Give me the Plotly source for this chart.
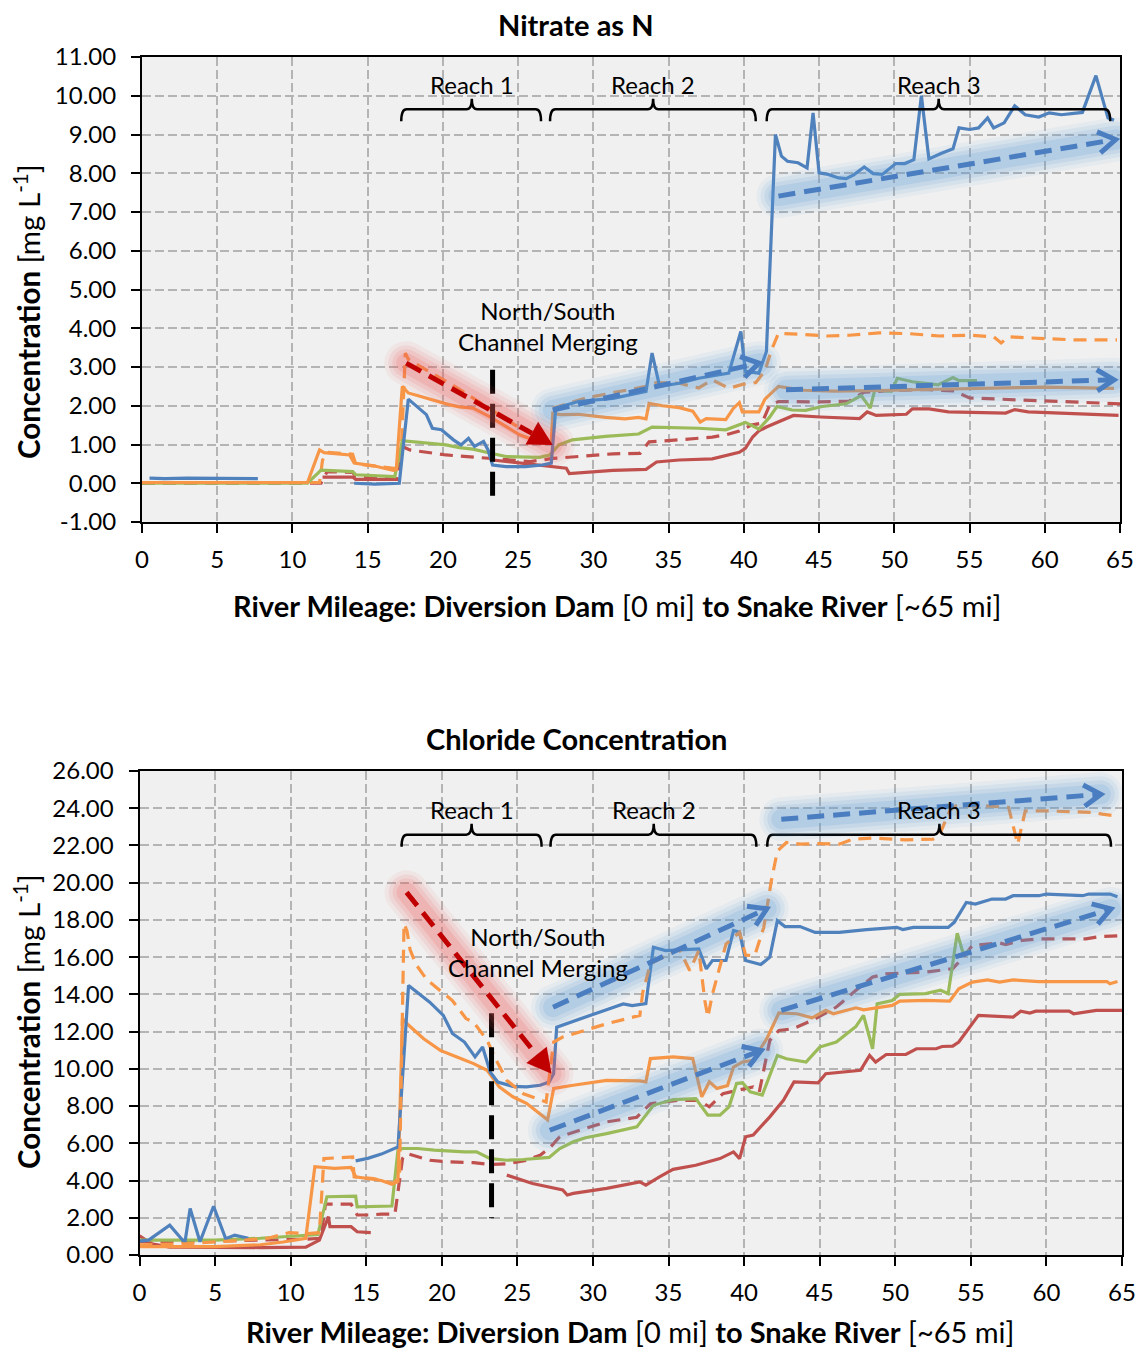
import math
import plotly.graph_objects as go

W, H = 1141, 1350
FONT = "Lato"

# ---------------- Nitrate as N (top chart) ----------------
no3_blue_x = [0.5, 1.5, 3, 5, 7.7, None, 14.1, 15.5, 17.1, 17.7, 18.9, 19.3, 19.9, 20.7, 21.2, 21.7, 22.1, 22.7, 23.0, 23.3,
              24.2, 25.5, 26.6, 27.2, 27.5, 29.0, 31.3, 33.5, 33.9, 34.4, 35.7, 37.0, 39.0, 39.8, 40.1, 41.0, 41.5,
              42.1, 42.5, 42.9, 43.6, 44.2, 44.6, 45.0, 45.6, 46.3, 46.8, 47.3, 48.0, 48.6, 49.2, 50.1, 50.7, 51.3,
              51.8, 52.3, 53.1, 53.9, 54.3, 55.0, 55.6, 56.2, 56.6, 57.3, 58.0, 58.7, 59.6, 60.3, 61.1, 62.5, 63.4,
              64.2, 64.6]
no3_blue_y = [0.13, 0.12, 0.13, 0.12, 0.12, None, 0.0, -0.02, 0.0, 2.17, 1.77, 1.42, 1.38, 1.12, 0.99, 1.16, 0.95, 1.08, 0.86, 0.47,
              0.43, 0.43, 0.47, 0.52, 1.94, 2.11, 2.19, 2.37, 3.36, 2.50, 2.58, 2.71, 2.84, 3.92, 2.89, 2.84, 3.40,
              9.00, 8.44, 8.31, 8.27, 8.14, 9.56, 8.01, 7.97, 7.88, 7.86, 7.96, 8.16, 7.99, 7.97, 8.25, 8.25, 8.35,
              10.00, 8.37, 8.51, 8.63, 9.17, 9.13, 9.17, 9.43, 9.17, 9.30, 9.74, 9.51, 9.45, 9.56, 9.51, 9.57, 10.52,
              9.43, 9.37]

no3_orange_x = [0, 5, 11.0, 11.8, 12.1, 13.8, 14.1, 15.4, 16.1, 16.7, 16.9, 17.3, 17.7, 18.5, 19.3, 20.4, 21.1, 22.0,
                23.1, 24.2, 25.1, 26.0, 26.7, 27.2, 27.3, 27.8, 29.0, 30.8, 32.1, 33.0, 33.5, 33.7, 34.6, 35.7, 36.6,
                37.1, 37.5, 38.8, 39.3, 39.7, 39.9, 41.0, 41.4, 42.3, 44, 46, 48, 50, 52, 54, 56, 58, 60, 62, 64.6]
no3_orange_y = [0.02, 0.02, 0.02, 0.86, 0.79, 0.73, 0.52, 0.45, 0.39, 0.33, 0.35, 2.50, 2.33, 2.24, 2.16, 2.03, 1.97, 1.94,
                1.72, 1.46, 1.25, 1.12, 1.08, 1.03, 1.81, 1.77, 1.78, 1.70, 1.66, 1.70, 1.66, 2.06, 2.00, 1.95, 1.86,
                1.58, 1.67, 1.64, 1.93, 2.08, 1.84, 1.84, 2.17, 2.50, 2.40, 2.38, 2.38, 2.40, 2.42, 2.44, 2.45, 2.47,
                2.48, 2.47, 2.45]

no3_green_x = [0, 5, 11.0, 11.9, 14.0, 14.2, 16.8, 17.3, 18.9, 20.2, 21.1, 22.0, 23.1, 24.2, 26.4, 27.1, 27.7, 28.6,
               30.8, 33.0, 33.9, 37.0, 38.8, 40.1, 41.0, 41.7, 42.2, 43.2, 44.1, 45.2, 46.8, 47.8, 48.4, 48.7, 49.8,
               50.2, 51.2, 52.9, 53.9, 54.3, 55.5]
no3_green_y = [0.0, 0.0, 0.0, 0.34, 0.30, 0.22, 0.17, 1.10, 1.05, 0.99, 0.92, 0.88, 0.78, 0.69, 0.67, 0.73, 0.99, 1.12,
               1.21, 1.27, 1.45, 1.42, 1.38, 1.57, 1.40, 1.70, 1.98, 1.89, 1.88, 1.98, 2.05, 2.26, 1.94, 2.41, 2.37,
               2.71, 2.62, 2.54, 2.73, 2.65, 2.65]

no3_red_x = [12.0, 14.0, 14.2, 17.1, None, 23.3, 25.0, 27.3, 28.2, 28.4, 30.0, 31.3, 33.5, 34.2, 35.7, 37.9, 39.7,
             40.1, 40.6, 41.0, 41.5, 42.3, 43.3, 45.1, 47.7, 48.2, 48.8, 50.8, 51.2, 52.3, 53.6, 57.4, 58.0, 58.9,
             62.0, 64.9]
no3_red_y = [0.16, 0.16, 0.10, 0.10, None, 0.60, 0.52, 0.43, 0.39, 0.25, 0.30, 0.33, 0.36, 0.55, 0.60, 0.63, 0.80,
             0.90, 1.20, 1.35, 1.45, 1.58, 1.75, 1.71, 1.67, 1.84, 1.75, 1.78, 1.92, 1.92, 1.84, 1.81, 1.90, 1.84,
             1.80, 1.75]

no3_orange_dash_x = [0, 5, 11.8, 12.0, 12.3, 14.0, 14.2, 16.9, 17.2, 17.5, 17.7, 19.0, 21.0, 23.0, 25.0, 26.5, 27.2,
                     27.4, 28.2, 29.5, 31.5, 33.5, 34.2, 35.7, 37.0, 37.9, 39.0, 39.9, 40.8, 41.4, 41.8, 42.3, 44.0,
                     45.5, 47.0, 49.0, 51.0, 53.0, 55.0, 56.6, 57.1, 57.6, 59.0, 62.0, 64.8]
no3_orange_dash_y = [0.02, 0.02, 0.02, 0.60, 0.80, 0.75, 0.50, 0.38, 0.50, 3.36, 3.20, 2.90, 2.45, 1.95, 1.45, 1.15,
                     1.05, 1.95, 2.05, 2.20, 2.35, 2.50, 2.60, 2.58, 2.46, 2.67, 2.45, 2.55, 2.60, 2.90, 3.40, 3.87,
                     3.84, 3.80, 3.82, 3.88, 3.86, 3.80, 3.82, 3.78, 3.62, 3.78, 3.75, 3.70, 3.70]

no3_red_dash_x = [0, 5, 11.9, 12.3, 14.0, 14.2, 16.0, 17.0, 17.3, 17.8, 20.2, 23.1, 25.8, 27.3, 31.3, 33.1, 33.7, 35.7,
                  37.9, 38.8, 39.7, 40.5, 41.2, 41.7, 42.3, 45.0, 47.0, 48.0, 50.0, 52.0, 54.0, 55.0, 58.0, 61.0, 65.0]
no3_red_dash_y = [0.0, 0.0, 0.0, 0.30, 0.28, 0.18, 0.15, 0.12, 0.95, 0.86, 0.73, 0.64, 0.56, 0.64, 0.76, 0.77, 1.07,
                  1.12, 1.19, 1.25, 1.35, 1.50, 1.55, 2.00, 2.11, 2.10, 2.12, 2.35, 2.40, 2.42, 2.38, 2.20, 2.15, 2.12,
                  2.05]

# ---------------- Chloride (bottom chart) ----------------
cl_blue_x = [0.0, 0.6, 2.0, 3.0, 3.35, 4.0, 4.9, 5.7, 6.3, 7.2, None, 14.3, 15.1, 16.0, 16.9, 17.1, 17.8, 19.2, 20.1,
             20.7, 21.5, 22.2, 22.7, 23.2, 23.7, 24.7, 25.6, 26.5, 27.1, 27.4, 27.6, 28.2, 29.8, 32.0, 32.6, 33.5, 34.0,
             34.8, 37.0, 37.5, 37.9, 38.8, 39.3, 39.7, 40.1, 41.1, 41.7, 42.2, 42.7, 43.7, 44.7, 46.3, 48.1, 50.1,
             50.5, 51.2, 53.5, 53.9, 54.7, 55.3, 56.4, 57.3, 57.8, 59.5, 60.0, 62.4, 62.8, 64.2, 64.7]
cl_blue_y = [0.75, 0.80, 1.60, 0.66, 2.50, 0.71, 2.62, 0.88, 1.07, 0.90, None, 5.06, 5.19, 5.42, 5.72, 5.80, 14.48,
             13.58, 12.87, 11.90, 11.44, 10.64, 11.17, 9.83, 9.29, 9.06, 9.03, 9.12, 9.29, 9.74, 12.24, 12.42, 12.87,
             13.49, 13.40, 13.50, 16.53, 16.35, 16.44, 15.37, 15.82, 15.82, 17.43, 17.34, 15.82, 15.60, 16.00, 17.96,
             17.64, 17.64, 17.33, 17.33, 17.48, 17.60, 17.48, 17.60, 17.60, 17.87, 18.94, 18.85, 19.12, 19.12, 19.30,
             19.30, 19.39, 19.30, 19.39, 19.39, 19.25]

cl_orange_x = [0, 5, 8, 9.5, 11.0, 11.6, 12.9, 14.0, 14.3, 15.1, 16.0, 16.7, 17.1, 17.4, 17.7, 18.8, 19.9, 21.0, 22.1,
               23.0, 23.8, 24.7, 25.6, 27.0, 27.4, 28.7, 30.9, 33.1, 33.5, 33.8, 35.3, 36.6, 37.2, 37.7, 38.2, 38.9,
               39.3, 39.9, 40.6, 41.5, 42.3, 43.5, 44.5, 45.4, 45.9, 47.4, 47.9, 49.8, 50.3, 52.0, 53.6, 54.2, 55.1,
               56.1, 56.9, 57.8, 59.5, 64.0, 64.2, 64.7]
cl_orange_y = [0.45, 0.45, 0.55, 0.70, 0.90, 4.74, 4.65, 4.70, 4.20, 4.10, 4.00, 3.80, 3.95, 12.70, 12.42, 11.62,
               10.99, 10.64, 10.28, 9.92, 9.03, 8.50, 8.15, 7.26, 8.95, 9.12, 9.38, 9.35, 9.30, 10.55, 10.64, 10.55,
               8.50, 9.30, 8.95, 9.10, 10.10, 10.37, 10.46, 11.62, 13.00, 12.96, 12.74, 13.14, 12.96, 13.28, 13.17,
               13.41, 13.64, 13.68, 13.64, 14.30, 14.66, 14.78, 14.66, 14.78, 14.69, 14.69, 14.57, 14.69]

cl_green_x = [0, 5, 8, 11.8, 12.4, 14.3, 14.4, 16.7, 17.1, 17.4, 18.4, 19.5, 21.5, 22.3, 23.2, 24.3, 25.4, 27.1, 27.8,
              28.7, 29.5, 30.9, 32.9, 34.0, 35.3, 36.8, 37.6, 38.4, 39.0, 39.5, 39.9, 40.4, 41.2, 42.2, 42.8, 44.1,
              45.0, 46.1, 47.4, 47.9, 48.5, 48.8, 49.8, 50.3, 52.0, 53.0, 53.5, 54.1, 54.5, 54.9]
cl_green_y = [0.80, 0.80, 0.90, 1.10, 3.13, 3.16, 2.59, 2.63, 5.63, 5.72, 5.72, 5.63, 5.54, 5.54, 5.18, 5.09, 5.13, 5.24,
              5.72, 6.08, 6.30, 6.52, 6.88, 8.04, 8.35, 8.40, 7.51, 7.51, 7.96, 9.21, 9.25, 8.77, 8.59, 10.72, 10.54,
              10.36, 11.17, 11.44, 12.28, 12.87, 11.08, 13.49, 13.67, 14.00, 14.04, 14.22, 14.04, 17.29, 16.18, 16.36]

cl_red_x = [0.0, 0.8, 2.0, 5.0, 8.0, 11.0, 11.9, 12.5, 12.6, 14.0, 14.4, 15.3, None, 24.3, 26.0, 28.0, 28.3, 28.7,
            30.9, 33.1, 33.5, 34.4, 35.3, 36.8, 38.4, 39.3, 39.7, 40.1, 40.6, 41.7, 42.6, 43.3, 44.9, 45.4, 47.7,
            48.3, 48.7, 49.4, 50.7, 51.4, 52.7, 53.1, 53.8, 54.2, 55.5, 57.8, 58.3, 58.9, 59.3, 61.5, 61.8, 63.3, 65.0]
cl_red_y = [1.03, 0.60, 0.42, 0.40, 0.40, 0.42, 0.80, 2.06, 1.52, 1.52, 1.25, 1.20, None, 4.29, 3.84, 3.50, 3.22, 3.31,
            3.58, 3.93, 3.75, 4.20, 4.60, 4.82, 5.18, 5.54, 5.18, 6.35, 6.44, 7.42, 8.31, 9.30, 9.25, 9.74, 9.92,
            10.72, 10.36, 10.77, 10.77, 11.08, 11.08, 11.20, 11.22, 11.44, 12.87, 12.78, 13.10, 13.00, 13.10, 13.10,
            12.96, 13.14, 13.14]

cl_orange_dash_x = [0, 3, 6, 8.5, 9.9, 11.1, 11.9, 12.2, 14.1, 14.2, 15.5, 16.8, 17.2, 17.5, 17.7, 17.9, 18.3, 19.0,
                    19.9, 20.7, 21.6, 22.1, 23.0, 23.6, 24.3, 25.4, 26.9, 27.4, 28.0, 28.7, 30.9, 33.1, 33.3, 33.8,
                    35.7, 36.4, 37.0, 37.4, 37.6, 37.9, 38.8, 39.3, 39.7, 40.1, 40.7, 41.3, 41.8, 42.2, 42.8, 43.7,
                    45.0, 46.3, 47.2, 48.5, 50.1, 50.7, 52.5, 52.9, 53.6, 54.0, 56.0, 57.5, 58.1, 58.6, 59.9, 63.1,
                    63.7, 64.5]
cl_orange_dash_y = [0.54, 0.60, 0.75, 0.90, 1.20, 1.15, 1.20, 5.18, 5.27, 4.20, 4.10, 3.84, 4.20, 17.80, 17.40, 16.40,
                    15.60, 14.80, 14.20, 13.67, 12.70, 12.51, 11.53, 10.46, 9.38, 8.66, 8.22, 11.44, 11.71, 11.89,
                    12.42, 12.87, 14.12, 15.64, 16.44, 15.28, 16.35, 13.67, 12.78, 14.00, 16.70, 17.07, 17.34, 16.10,
                    16.09, 17.60, 20.10, 21.70, 22.16, 22.07, 22.10, 22.07, 22.34, 22.40, 22.34, 22.30, 22.34, 22.52,
                    23.86, 24.13, 24.13, 24.04, 22.07, 23.86, 23.86, 23.77, 23.68, 23.60]

cl_red_dash_x = [0, 5, 11.0, 12.0, 12.3, 14.0, 14.4, 15.3, 16.0, 16.9, 17.4, 17.7, 19.2, 20.5, 22.1, 23.2, 24.3, 25.6,
                 26.5, 27.1, 27.8, 28.7, 29.5, 30.9, 32.9, 33.8, 35.7, 37.0, 37.7, 38.6, 39.7, 40.6, 41.0, 41.7, 42.3,
                 43.2, 44.5, 46.1, 47.4, 48.5, 49.4, 50.7, 52.0, 53.8, 54.5, 55.1, 56.9, 57.3, 58.4, 59.5, 62.6, 63.5,
                 65.0]
cl_red_dash_y = [0.72, 0.75, 0.85, 0.90, 2.73, 2.73, 2.15, 2.15, 2.20, 2.20, 5.18, 5.45, 5.09, 5.00, 4.96, 4.86, 4.90,
                 5.09, 5.36, 5.72, 6.35, 6.61, 6.80, 7.15, 7.40, 8.13, 8.31, 8.31, 7.96, 8.67, 8.85, 9.03, 8.75, 11.53,
                 12.06, 12.15, 12.60, 13.32, 14.22, 14.93, 15.10, 15.14, 15.20, 15.38, 16.00, 16.63, 16.76, 16.68,
                 16.90, 16.98, 16.98, 17.10, 17.16]

# tick values
x_ticks = list(range(0, 66, 5))
no3_y_ticks = list(range(-1, 12))
cl_y_ticks = list(range(0, 27, 2))

# annotation positions (data units: miles, concentration)
reach_names = ["Reach 1", "Reach 2", "Reach 3"]
no3_brackets = [(17.23, 26.52, 21.92), (27.12, 40.79, 33.97), (41.52, 64.35, 52.95)]
cl_brackets = [(17.34, 26.60, 21.97), (27.19, 40.81, 34.02), (41.53, 64.27, 52.92)]
no3_arrows = [("red", (17.56, 3.10), (27.30, 0.99)),
              ("blue", (27.30, 1.89), (41.00, 3.10)),
              ("blue", (42.30, 7.41), (64.70, 8.87)),
              ("blue", (42.80, 2.41), (64.60, 2.67))]
cl_arrows = [("red", (17.67, 19.48), (27.26, 9.74)),
             ("blue", (27.36, 13.31), (41.50, 18.60)),
             ("blue", (27.14, 6.70), (41.13, 10.99)),
             ("blue", (42.46, 23.41), (63.60, 24.75)),
             ("blue", (42.46, 13.14), (64.27, 18.59))]

# ---------------- geometry (pixels) ----------------
G_TOP = dict(x0=142, x1=1120, ytop=57, ybot=522, xr=(0, 65), yr=(-1, 11), xref="x", yref="y")
G_BOT = dict(x0=139.5, x1=1122, ytop=771, ybot=1255, xr=(0, 65), yr=(0, 26), xref="x2", yref="y2")


def to_px(g, x, y):
    px = g["x0"] + (x - g["xr"][0]) / (g["xr"][1] - g["xr"][0]) * (g["x1"] - g["x0"])
    py = g["ybot"] - (y - g["yr"][0]) / (g["yr"][1] - g["yr"][0]) * (g["ybot"] - g["ytop"])
    return px, py


def to_data(g, px, py):
    x = g["xr"][0] + (px - g["x0"]) / (g["x1"] - g["x0"]) * (g["xr"][1] - g["xr"][0])
    y = g["yr"][0] + (g["ybot"] - py) / (g["ybot"] - g["ytop"]) * (g["yr"][1] - g["yr"][0])
    return x, y


def path_from_px(g, pts, close=True):
    s = ""
    for i, (px, py) in enumerate(pts):
        x, y = to_data(g, px, py)
        s += ("M" if i == 0 else "L") + f"{x:.4f},{y:.4f} "
    if close:
        s += "Z"
    return s


BLUE, ORANGE, GREEN, RED = "#4F81BD", "#F79646", "#9BBB59", "#C0504D"
LW = 3.2
DASH = "13px,8px"

fig = go.Figure()


def add_series(xs, ys, color, dash, xa, ya):
    fig.add_trace(go.Scatter(x=xs, y=ys, mode="lines", xaxis=xa, yaxis=ya, connectgaps=False,
                             line=dict(color=color, width=LW, dash=dash), showlegend=False, hoverinfo="skip"))


for (xs, ys, c, d) in [(no3_red_dash_x, no3_red_dash_y, RED, DASH),
                       (no3_orange_dash_x, no3_orange_dash_y, ORANGE, DASH),
                       (no3_red_x, no3_red_y, RED, "solid"),
                       (no3_green_x, no3_green_y, GREEN, "solid"),
                       (no3_orange_x, no3_orange_y, ORANGE, "solid"),
                       (no3_blue_x, no3_blue_y, BLUE, "solid")]:
    add_series(xs, ys, c, d, "x", "y")

for (xs, ys, c, d) in [(cl_red_dash_x, cl_red_dash_y, RED, DASH),
                       (cl_red_x, cl_red_y, RED, "solid"),
                       (cl_green_x, cl_green_y, GREEN, "solid"),
                       (cl_orange_x, cl_orange_y, ORANGE, "solid"),
                       (cl_blue_x, cl_blue_y, BLUE, "solid"),
                       (cl_orange_dash_x, cl_orange_dash_y, ORANGE, DASH)]:
    add_series(xs, ys, c, d, "x2", "y2")

shapes = []


def capsule(g, p0, p1, r, n=12):
    a = to_px(g, *p0)
    b = to_px(g, *p1)
    th = math.atan2(b[1] - a[1], b[0] - a[0])
    pts = []
    for i in range(n + 1):
        t = th + math.pi / 2 - math.pi * i / n
        pts.append((b[0] + r * math.cos(t), b[1] + r * math.sin(t)))
    for i in range(n + 1):
        t = th - math.pi / 2 - math.pi * i / n
        pts.append((a[0] + r * math.cos(t), a[1] + r * math.sin(t)))
    return path_from_px(g, pts)


def add_arrow(g, kind, p0, p1):
    if kind == "blue":
        col, glow_rgb = "#4A7EC0", "91,155,213"
    else:
        col, glow_rgb = "#C00000", "240,90,90"
    a = to_px(g, *p0)
    b = to_px(g, *p1)
    L = math.hypot(b[0] - a[0], b[1] - a[1])
    ux, uy = (b[0] - a[0]) / L, (b[1] - a[1]) / L
    nx, ny = -uy, ux
    # soft glow
    for r, op in [(22, 0.07), (18, 0.10), (14, 0.13), (10, 0.17)]:
        shapes.append(dict(type="path", xref=g["xref"], yref=g["yref"], path=capsule(g, p0, p1, r),
                           fillcolor=f"rgb({glow_rgb})", opacity=op, line=dict(width=0), layer="above"))
    if kind == "blue":
        hl = 20
        end = (b[0] - 3 * ux, b[1] - 3 * uy)
        ex, ey = to_data(g, *end)
        shapes.append(dict(type="line", xref=g["xref"], yref=g["yref"], x0=p0[0], y0=p0[1], x1=ex, y1=ey,
                           line=dict(color=col, width=5, dash="17px,9px"), layer="above"))
        ang = math.radians(32)
        pts = []
        for s in (1, -1):
            cx = ux * math.cos(s * ang) - uy * math.sin(s * ang)
            cy = ux * math.sin(s * ang) + uy * math.cos(s * ang)
            pts.append((b[0] - hl * cx, b[1] - hl * cy))
        shapes.append(dict(type="path", xref=g["xref"], yref=g["yref"],
                           path=path_from_px(g, [pts[0], b, pts[1]], close=False),
                           line=dict(color=col, width=5), layer="above"))
    else:
        hl, hw = 24, 13
        base = (b[0] - hl * ux, b[1] - hl * uy)
        bx, by = to_data(g, *base)
        shapes.append(dict(type="line", xref=g["xref"], yref=g["yref"], x0=p0[0], y0=p0[1], x1=bx, y1=by,
                           line=dict(color=col, width=5, dash="17px,9px"), layer="above"))
        tri = [(base[0] + hw * nx, base[1] + hw * ny), b, (base[0] - hw * nx, base[1] - hw * ny)]
        shapes.append(dict(type="path", xref=g["xref"], yref=g["yref"], path=path_from_px(g, tri),
                           fillcolor=col, line=dict(width=0), layer="above"))


def add_brackets(g, brackets, y_h, y_low, y_top):
    for (x0, x1, xc) in brackets:
        d = 0.35
        p = (f"M{x0},{y_low} Q{x0},{y_h} {x0 + d},{y_h} L{xc - d},{y_h} Q{xc},{y_h} {xc},{y_top} "
             f"Q{xc},{y_h} {xc + d},{y_h} L{x1 - d},{y_h} Q{x1},{y_h} {x1},{y_low}")
        shapes.append(dict(type="path", xref=g["xref"], yref=g["yref"], path=p,
                           line=dict(color="black", width=2.5), layer="above"))


add_brackets(G_TOP, no3_brackets, 9.65, 9.34, 9.92)
add_brackets(G_BOT, cl_brackets, 22.57, 21.93, 23.16)

shapes.append(dict(type="line", xref="x", yref="y", x0=23.3, x1=23.3, y0=2.93, y1=-0.51,
                   line=dict(color="black", width=5, dash="24px,10px"), layer="above"))
shapes.append(dict(type="line", xref="x2", yref="y2", x0=23.29, x1=23.29, y0=12.98, y1=1.98,
                   line=dict(color="black", width=5, dash="24px,10px"), layer="above"))

for kind, p0, p1 in no3_arrows:
    add_arrow(G_TOP, kind, p0, p1)
for kind, p0, p1 in cl_arrows:
    add_arrow(G_BOT, kind, p0, p1)

TXT = 24
annotations = []
for (x0, x1, xc), name in zip(no3_brackets, reach_names):
    annotations.append(dict(x=xc, y=10.29, xref="x", yref="y", text=name, showarrow=False,
                            font=dict(family=FONT, size=TXT, color="black")))
for (x0, x1, xc), name in zip(cl_brackets, reach_names):
    annotations.append(dict(x=xc, y=23.91, xref="x2", yref="y2", text=name, showarrow=False,
                            font=dict(family=FONT, size=TXT, color="black")))
annotations.append(dict(x=27.0, y=4.06, xref="x", yref="y", text="North/South<br>Channel Merging",
                        showarrow=False, font=dict(family=FONT, size=TXT, color="black")))
annotations.append(dict(x=26.35, y=16.3, xref="x2", yref="y2", text="North/South<br>Channel Merging",
                        showarrow=False, font=dict(family=FONT, size=TXT, color="black")))


def paper(px, py):
    return px / W, 1 - py / H


for txt, (px, py) in [("<b>Nitrate as N</b>", (576, 24)), ("<b>Chloride Concentration</b>", (576, 738))]:
    x, y = paper(px, py)
    annotations.append(dict(x=x, y=y, xref="paper", yref="paper", text=txt, showarrow=False,
                            xanchor="center", yanchor="middle", font=dict(family=FONT, size=29, color="black")))

xt = "<b>River Mileage: Diversion Dam</b> [0 mi] <b>to Snake River</b> [~65 mi]"
for (px, py) in [(617, 605), (630, 1331)]:
    x, y = paper(px, py)
    annotations.append(dict(x=x, y=y, xref="paper", yref="paper", text=xt, showarrow=False,
                            xanchor="center", yanchor="middle", font=dict(family=FONT, size=29, color="black")))

yt = "<b>Concentration</b> [mg L<sup>-1</sup>]"
for (px, py) in [(27, 312), (27, 1022)]:
    x, y = paper(px, py)
    annotations.append(dict(x=x, y=y, xref="paper", yref="paper", text=yt, showarrow=False, textangle=-90,
                            xanchor="center", yanchor="middle", font=dict(family=FONT, size=29.5, color="black")))

axis_common = dict(showgrid=True, gridcolor="#B4B4B4", griddash="9px,4px", gridwidth=1.6,
                   showline=True, linecolor="black", linewidth=2, mirror=True,
                   ticks="outside", ticklen=9, tickwidth=1.5, tickcolor="black",
                   tickfont=dict(family=FONT, size=24, color="black"), zeroline=False)

fig.update_layout(
    width=W, height=H, autosize=False,
    margin=dict(l=0, r=0, t=0, b=0, pad=0, autoexpand=False),
    paper_bgcolor="white", plot_bgcolor="#F0F0F0",
    showlegend=False,
    xaxis=dict(domain=[G_TOP["x0"] / W, G_TOP["x1"] / W], range=list(G_TOP["xr"]), anchor="y",
               tickvals=x_ticks, ticktext=[str(v) for v in x_ticks], ticklabelstandoff=6, **axis_common),
    yaxis=dict(domain=[1 - G_TOP["ybot"] / H, 1 - G_TOP["ytop"] / H], range=list(G_TOP["yr"]), anchor="x",
               tickvals=no3_y_ticks, ticktext=[f"{v:.2f}" for v in no3_y_ticks], ticklabelstandoff=10,
               **axis_common),
    xaxis2=dict(domain=[G_BOT["x0"] / W, G_BOT["x1"] / W], range=list(G_BOT["xr"]), anchor="y2",
                tickvals=x_ticks, ticktext=[str(v) for v in x_ticks], ticklabelstandoff=6, **axis_common),
    yaxis2=dict(domain=[1 - G_BOT["ybot"] / H, 1 - G_BOT["ytop"] / H], range=list(G_BOT["yr"]), anchor="x2",
                tickvals=cl_y_ticks, ticktext=[f"{v:.2f}" for v in cl_y_ticks], ticklabelstandoff=10,
                **axis_common),
    shapes=shapes,
    annotations=annotations,
)

fig.write_html("out.html", config={"displayModeBar": False},
               post_script="document.body.style.margin='0';document.body.style.overflow='hidden';")
